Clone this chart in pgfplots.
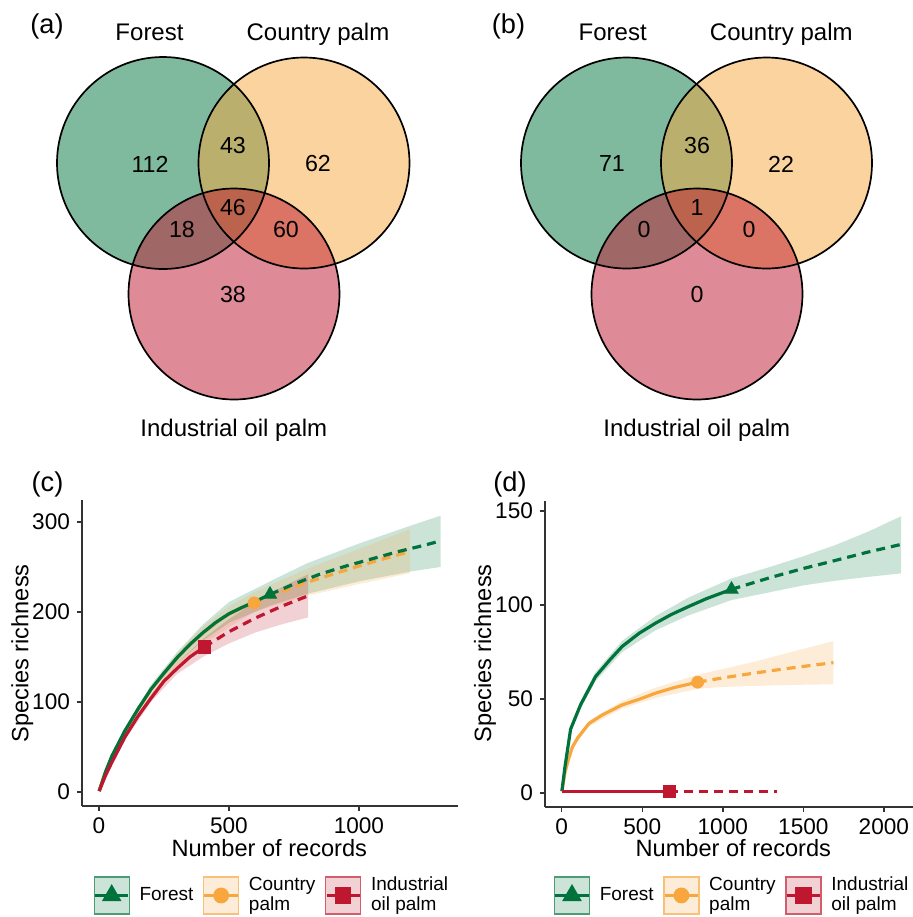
\documentclass[border=0pt]{standalone}
\usepackage{pgfplots}
\pgfplotsset{compat=1.18}
\usepackage{fontspec}
\setmainfont{Liberation Sans}
\definecolor{fgreen}{RGB}{0,115,61}
\definecolor{corange}{RGB}{247,167,61}
\definecolor{ired}{RGB}{191,23,47}
\pgfplotsset{
  keyF/.style={legend image code/.code={
     \draw[fill=fgreen!20,draw=fgreen!70,line width=0.7pt,solid] (0pt,-9.25pt) rectangle (17.5pt,9.25pt);
     \draw[##1,line width=1.9pt,mark repeat=2,mark phase=2] plot coordinates {(0.4pt,0pt) (8.75pt,0pt) (17.1pt,0pt)};}},
  keyC/.style={legend image code/.code={
     \draw[fill=corange!20,draw=corange!70,line width=0.7pt,solid] (0pt,-9.25pt) rectangle (17.5pt,9.25pt);
     \draw[##1,line width=1.9pt,mark repeat=2,mark phase=2] plot coordinates {(0.4pt,0pt) (8.75pt,0pt) (17.1pt,0pt)};}},
  keyI/.style={legend image code/.code={
     \draw[fill=ired!20,draw=ired!70,line width=0.7pt,solid] (0pt,-9.25pt) rectangle (17.5pt,9.25pt);
     \draw[##1,line width=1.9pt,mark repeat=2,mark phase=2] plot coordinates {(0.4pt,0pt) (8.75pt,0pt) (17.1pt,0pt)};}},
  rare/.style={
    scale only axis, anchor=south west,
    axis x line*=bottom, axis y line*=left,
    axis line style={-, draw=black!80, line width=0.7pt},
    every tick/.style={draw=black!80, line width=0.7pt},
    tick align=outside, major tick length=2.5pt,
    enlargelimits=false,
    ticklabel style={font=\fontsize{11.3}{13}\selectfont, text=black},
    /pgf/number format/assume math mode=true,
    /pgf/number format/1000 sep={},
    legend columns=3,
    legend style={draw=none, fill=none, inner sep=0pt, column sep=4.6pt,
      font=\fontsize{9.5}{10}\selectfont, cells={anchor=west, align=left}, nodes={inner sep=0pt}},
  },
  sol/.style={line width=1.6pt},
  das/.style={line width=1.6pt, dash pattern=on 4.5pt off 3pt},
}
\begin{document}
\begin{tikzpicture}
% ---------- overlay: Venn diagrams and texts (pixel coordinates) ----------
\begin{axis}[at={(0pt,0pt)}, anchor=south west, scale only axis, width=456pt, height=458.5pt,
  xmin=0, xmax=912, ymin=0, ymax=917, y dir=reverse, hide axis, clip=false]
 \fill[fgreen, fill opacity=0.5] (axis cs:163,163) circle[radius=53pt];
 \fill[corange, fill opacity=0.5] (axis cs:304,163) circle[radius=52.75pt];
 \fill[ired, fill opacity=0.5] (axis cs:234,294) circle[radius=52.75pt];
 \draw[black, line width=0.85pt] (axis cs:163,163) circle[radius=53pt];
 \draw[black, line width=0.85pt] (axis cs:304,163) circle[radius=52.75pt];
 \draw[black, line width=0.85pt] (axis cs:234,294) circle[radius=52.75pt];
 \fill[fgreen, fill opacity=0.5] (axis cs:626.5,163) circle[radius=52.75pt];
 \fill[corange, fill opacity=0.5] (axis cs:766.5,163) circle[radius=52.75pt];
 \fill[ired, fill opacity=0.5] (axis cs:697,294) circle[radius=52.75pt];
 \draw[black, line width=0.85pt] (axis cs:626.5,163) circle[radius=52.75pt];
 \draw[black, line width=0.85pt] (axis cs:766.5,163) circle[radius=52.75pt];
 \draw[black, line width=0.85pt] (axis cs:697,294) circle[radius=52.75pt];
 \addplot[draw=none, mark=none, nodes near coords, point meta=explicit symbolic,
   every node near coord/.append style={font=\fontsize{11.6}{13}\selectfont, inner sep=0pt, anchor=center, text=black}]
   table[meta=lab]{
   x y lab
   150 164 112
   233 146 43
   318 164 62
   233 208 46
   182 230 18
   286 230 60
   233 295 38
   612 164 71
   697 146 36
   781 164 22
   697 208 1
   644 230 0
   749 230 0
   697 295 0
 };
 \tikzset{vl/.style={font=\fontsize{12}{14}\selectfont, anchor=base, inner sep=0pt}}
 \node[vl] at (axis cs:149.5,40) {Forest};
 \node[vl] at (axis cs:318,40) {Country palm};
 \node[vl] at (axis cs:233.8,436.7) {Industrial oil palm};
 \node[vl] at (axis cs:612.7,40) {Forest};
 \node[vl] at (axis cs:781.3,40) {Country palm};
 \node[vl] at (axis cs:696.8,436.7) {Industrial oil palm};
 \tikzset{pl/.style={font=\fontsize{13.6}{15}\selectfont, anchor=center, inner sep=0pt}}
 \node[pl] at (axis cs:47,26) {(a)};
 \node[pl] at (axis cs:508.5,26) {(b)};
 \node[pl] at (axis cs:47.5,484.5) {(c)};
 \node[pl] at (axis cs:510,484.5) {(d)};
 \tikzset{al/.style={font=\fontsize{11.8}{13}\selectfont, anchor=base, inner sep=0pt}}
 \node[al, rotate=90] at (axis cs:28.3,653.5) {Species richness};
 \node[al, rotate=90] at (axis cs:491,653.5) {Species richness};
 \node[al] at (axis cs:269.3,856.7) {Number of records};
 \node[al] at (axis cs:733.3,856.7) {Number of records};
\end{axis}
% ---------- (c) ----------
\begin{axis}[rare, at={(41pt,55.5pt)}, width=188pt, height=153pt,
  xmin=-65, xmax=1381, ymin=-15.6, ymax=324.4,
  xtick={0,500,1000}, ytick={0,100,200,300},
  legend style={at={(0.0285,-0.2925)}, anchor=west}]
 \addlegendimage{keyF, fgreen, sol, mark=triangle*, mark size=3.8pt, mark options={solid}}
 \addlegendentry{Forest}
 \addlegendimage{keyC, corange, sol, mark=*, mark size=3pt, mark options={solid}}
 \addlegendentry{Country\\palm}
 \addlegendimage{keyI, ired, sol, mark=square*, mark size=3.1pt, mark options={solid}}
 \addlegendentry{Industrial\\oil palm}
 % bands
 \addplot[draw=none, fill=fgreen, fill opacity=0.2, forget plot] coordinates {
  (1,1)(50,41)(100,70)(200,119)(300,155)(400,186)(500,211)(658,234)(800,254)(1000,276)(1200,296)(1314,307)
  (1314,250)(1200,245)(1000,234)(800,220)(658,207)(500,188)(400,168)(300,143)(200,111)(100,66)(50,39)(1,1)} -- cycle;
 \addplot[draw=none, fill=corange, fill opacity=0.2, forget plot] coordinates {
  (1,1)(50,40)(100,69)(200,116)(300,154)(400,184)(500,206)(597,222)(800,248)(1000,270)(1196,292)
  (1196,243)(1000,231)(800,218)(597,200)(500,183)(400,164)(300,138)(200,106)(100,63)(50,38)(1,1)} -- cycle;
 \addplot[draw=none, fill=ired, fill opacity=0.2, forget plot] coordinates {
  (1,1)(50,35)(100,65)(200,109)(300,143)(405,171)(500,192)(600,211)(700,227)(805,242)
  (805,194)(700,186)(600,177)(500,165)(405,151)(300,131)(200,100)(100,58)(50,31)(1,1)} -- cycle;
 % country palm
 \addplot[corange, sol, forget plot] coordinates {
  (1,1)(25,21.5)(50,39.5)(100,67.5)(150,91.5)(200,113.5)(250,131.5)(300,148.5)(350,163.5)(400,176.5)(450,188)(500,197.5)(550,204.5)(597,210)};
 \addplot[corange, das, forget plot] coordinates {
  (597,210)(700,222)(800,233)(900,242)(1000,251)(1100,259.5)(1196,267)};
 \addplot[corange, only marks, mark=*, mark size=3pt, forget plot] coordinates {(597,210)};
 % forest
 \addplot[fgreen, sol, forget plot] coordinates {
  (1,1)(25,22)(50,40)(100,68)(150,92)(200,114)(250,132)(300,149)(350,164)(400,177)(450,188.5)(500,198)(550,205)(600,211.5)(658,219.5)};
 \addplot[fgreen, das, forget plot] coordinates {
  (658,219.5)(750,231)(850,242)(950,251)(1050,259)(1150,267)(1250,274)(1314,279)};
 \addplot[fgreen, only marks, mark=triangle*, mark size=3.8pt, forget plot] coordinates {(658,219.5)};
 % industrial
 \addplot[ired, sol, forget plot] coordinates {
  (1,1)(25,18)(50,33)(100,61)(150,84)(200,104)(250,123)(300,137)(350,150)(405,161)};
 \addplot[ired, das, forget plot] coordinates {
  (405,161)(500,178)(600,193)(700,206)(805,218)};
 \addplot[ired, only marks, mark=square*, mark size=3.1pt, forget plot] coordinates {(405,161)};
\end{axis}
% ---------- (d) ----------
\begin{axis}[rare, at={(272.5pt,55pt)}, width=186.5pt, height=153pt,
  xmin=-104, xmax=2212, ymin=-7.4, ymax=155.4,
  xtick={0,500,1000,1500,2000}, ytick={0,50,100,150},
  legend style={at={(0.0214,-0.289)}, anchor=west}]
 \addlegendimage{keyF, fgreen, sol, mark=triangle*, mark size=3.8pt, mark options={solid}}
 \addlegendentry{Forest}
 \addlegendimage{keyC, corange, sol, mark=*, mark size=3pt, mark options={solid}}
 \addlegendentry{Country\\palm}
 \addlegendimage{keyI, ired, sol, mark=square*, mark size=3.1pt, mark options={solid}}
 \addlegendentry{Industrial\\oil palm}
 \addplot[draw=none, fill=fgreen, fill opacity=0.2, forget plot] coordinates {
  (1,1)(55,35.5)(117,49)(210,64.5)(375,81)(580,94)(786,104)(1054,114.2)(1300,120.5)(1500,126)(1700,132)(1900,139)(2107,147.3)
  (2107,116.9)(1900,115)(1700,113)(1500,110.5)(1300,107)(1054,102.7)(786,94.5)(580,86.5)(375,75)(210,59.5)(117,45)(55,32.5)(1,1)} -- cycle;
 \addplot[draw=none, fill=corange, fill opacity=0.2, forget plot] coordinates {
  (1,1)(66,25.5)(169,38.5)(375,49)(580,56)(844,63)(1000,66)(1200,70)(1400,74.5)(1687,80.9)
  (1687,57.9)(1400,57.5)(1200,57)(1000,56.5)(844,55.5)(580,50.5)(375,45)(169,35.5)(66,23.5)(1,1)} -- cycle;
 \addplot[corange, sol, forget plot] coordinates {
  (1,1)(20,11)(40,17.5)(66,24.5)(100,29.5)(169,37)(250,41.5)(375,46.9)(500,50.5)(580,53.1)(700,56.2)(844,59)};
 \addplot[corange, das, forget plot] coordinates {
  (844,59)(1000,61.3)(1200,63.9)(1400,66.3)(1687,69.4)};
 \addplot[corange, only marks, mark=*, mark size=3pt, forget plot] coordinates {(844,59)};
 \addplot[fgreen, sol, forget plot] coordinates {
  (1,1)(20,14)(55,34)(117,47)(210,62)(300,71)(375,78)(480,85)(580,90.3)(680,95)(786,99.2)(900,103.5)(1054,108.4)};
 \addplot[fgreen, das, forget plot] coordinates {
  (1054,108.4)(1300,114.8)(1500,119.5)(1700,123.8)(1900,128.2)(2107,132.3)};
 \addplot[fgreen, only marks, mark=triangle*, mark size=3.8pt, forget plot] coordinates {(1054,108.4)};
 \addplot[ired, sol, forget plot] coordinates {(1,1)(669,1)};
 \addplot[ired, das, forget plot] coordinates {(669,1)(1337,1)};
 \addplot[ired, only marks, mark=square*, mark size=3.1pt, forget plot] coordinates {(669,1)};
\end{axis}
\pgfresetboundingbox
\useasboundingbox (0pt,0pt) rectangle (456pt,458.5pt);
\end{tikzpicture}
\end{document}
